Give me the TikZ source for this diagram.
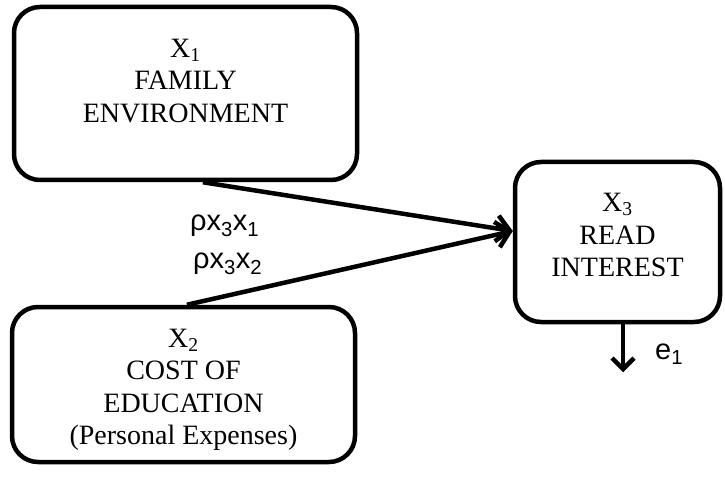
\documentclass[tikz,border=0pt]{standalone}
\usepackage{fontspec}
\setmainfont{Liberation Serif}
\newfontfamily\labelfont{Liberation Sans}
\usetikzlibrary{arrows.meta,calc}

\begin{document}
\begin{tikzpicture}[x=1pt,y=-1pt,
  box/.style={draw, line width=4.5pt, rounded corners=26pt, inner sep=0pt},
  boxtext/.style={align=center, font=\fontsize{28}{32.5}\selectfont, inner sep=0pt},
  pathlabel/.style={font=\labelfont\fontsize{29}{33}\selectfont, inner sep=0pt},
  link/.style={line width=4.5pt, line join=round,
    -{Straight Barb[length=13pt,width=26pt,line width=4.5pt]}},
  errlink/.style={line width=4.5pt, line join=round,
    -{Straight Barb[length=11pt,width=22pt,line width=4.5pt]}}
]
\useasboundingbox (0,0) rectangle (725,486);

% variable boxes
\node[box, minimum width=343pt, minimum height=173pt] (b1) at (185.5,93.5) {};
\node[box, minimum width=343pt, minimum height=155pt] (b2) at (183.5,384.5) {};
\node[box, minimum width=205pt, minimum height=160pt] (b3) at (617.5,242) {};

% box contents
\node[boxtext] (t1) at (185.5,81) {X\textsubscript{1}\\FAMILY\\ENVIRONMENT};
\node[boxtext] (t2) at (183.5,390) {X\textsubscript{2}\\COST OF\\EDUCATION\\(Personal Expenses)};
\node[boxtext] (t3) at (617.5,235) {X\textsubscript{3}\\READ\\INTEREST};

% path coefficients
\node[pathlabel, anchor=base west] (r1) at (190,231) {ρx\textsubscript{3}x\textsubscript{1}};
\node[pathlabel, anchor=base west] (r2) at (193,269) {ρx\textsubscript{3}x\textsubscript{2}};

% causal paths
\coordinate (s1) at ($(b1.south west)!0.55!(b1.south east)$);
\coordinate (s2) at ($(b2.north west)!0.51!(b2.north east)$);
\coordinate (tip) at ($(b3.west)+(0,-11)$);
\draw[link] (s1) -- (tip);
\draw[link] (s2) -- (tip);

% residual
\coordinate (d0) at ($(b3.south)+(5.5,0)$);
\coordinate (d1) at ($(d0)+(0,48)$);
\draw[errlink] (d0) -- (d1);
\node[pathlabel, anchor=base west] (e) at (655,359) {e\textsubscript{1}};
\end{tikzpicture}
\end{document}
